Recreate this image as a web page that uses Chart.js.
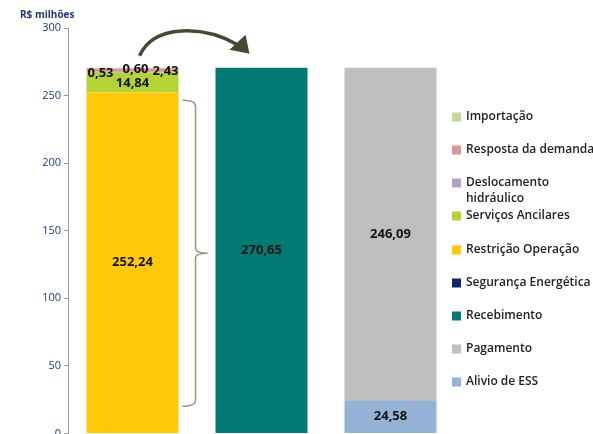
<!DOCTYPE html>
<html>
<head>
<meta charset="utf-8">
<script src="https://cdn.jsdelivr.net/npm/chart.js@4/dist/chart.umd.min.js"></script>
<style>
  html, body { margin: 0; padding: 0; background: #fff; overflow: hidden; }
  #wrap { position: relative; width: 593px; height: 443px; }
</style>
</head>
<body>
<div id="wrap"><canvas id="chart"></canvas></div>
<script>
// Encargos de Serviço do Sistema - R$ milhões
// Series are listed bottom-of-stack first; legend shows them top-first.

const categories = ['Encargos', 'Recebimento', 'Pagamento'];

const seriesNames = [
  'Alivio de ESS',
  'Pagamento',
  'Recebimento',
  'Segurança Energética',
  'Restrição Operação',
  'Serviços Ancilares',
  'Deslocamento hidráulico',
  'Resposta da demanda',
  'Importação',
];

const alivioEss      = [0, 0, 24.58];
const pagamento      = [0, 0, 246.09];
const recebimento    = [0, 270.65, 0];
const segurancaEnerg = [0, 0, 0];
const restricaoOper  = [252.24, 0, 0];
const servicosAnc    = [14.84, 0, 0];
const deslocamento   = [0.60, 0, 0];
const respostaDem    = [2.43, 0, 0];
const importacao     = [0.53, 0, 0];

const yTicks = [0, 50, 100, 150, 200, 250, 300];

const seriesColors = [
  '#95B3D7', '#BFBFBF', '#007A72', '#0C2A6A', '#FFC908',
  '#B5D334', '#B3A2C7', '#D99694', '#C4D79B',
];

const seriesValues = [
  alivioEss, pagamento, recebimento, segurancaEnerg, restricaoOper,
  servicosAnc, deslocamento, respostaDem, importacao,
];

// --- Value labels, arrow, brace, legend and unit title ---

const fmt = (v) => v.toFixed(2).replace('.', ',');
const FONT = '"Open Sans", "DejaVu Sans", sans-serif';

// small segments on top of the first bar get their labels nudged by hand
const smallLabelOffsets = {
  'Importação': { dx: -32, dy: 6 },
  'Deslocamento hidráulico': { dx: 3, dy: -2 },
  'Resposta da demanda': { dx: 33, dy: 3 },
};

const annotations = {
  id: 'annotations',
  afterDatasetsDraw(chart) {
    const { ctx, scales: { x, y } } = chart;
    ctx.save();

    // value labels
    ctx.font = 'bold 13px ' + FONT;
    ctx.fillStyle = '#111';
    ctx.textAlign = 'center';
    ctx.textBaseline = 'middle';
    chart.data.datasets.forEach((ds, di) => {
      const meta = chart.getDatasetMeta(di);
      ds.data.forEach((v, i) => {
        if (!v) return;
        const bar = meta.data[i];
        let cx = bar.x, cy = (bar.y + bar.base) / 2;
        const off = smallLabelOffsets[ds.label];
        if (off) { cx = bar.x + off.dx; cy = bar.y + off.dy; }
        else if (ds.label === 'Serviços Ancilares') { cy += 1; }
        ctx.fillText(fmt(v), cx, cy);
      });
    });

    // curved arrow from first bar to second bar
    const top = y.getPixelForValue(270.65);
    const x0 = x.getPixelForValue(0) + 7, x1 = x.getPixelForValue(1) - 18;
    const sy = top - 12, ey = top - 17;
    ctx.strokeStyle = '#4A4632';
    ctx.fillStyle = '#4A4632';
    ctx.lineWidth = 3.5;
    ctx.beginPath();
    ctx.moveTo(x0, sy);
    ctx.bezierCurveTo(x0 + 15, sy - 32, x1 - 40, sy - 30, x1 - 6, ey - 6);
    ctx.stroke();
    ctx.beginPath();
    ctx.moveTo(x1 + 6, ey + 3);
    ctx.lineTo(x1 - 14, ey - 1);
    ctx.lineTo(x1 + 2, ey - 16);
    ctx.closePath();
    ctx.fill();

    // brace between first and second bar
    const bx = x.getPixelForValue(0) + 63;
    const bTop = y.getPixelForValue(246.5), bBot = y.getPixelForValue(20);
    const bMid = (bTop + bBot) / 2;
    ctx.strokeStyle = '#8E9B78';
    ctx.lineWidth = 1.5;
    ctx.beginPath();
    ctx.moveTo(bx - 13, bTop);
    ctx.quadraticCurveTo(bx, bTop, bx, bTop + 6);
    ctx.lineTo(bx, bMid - 5);
    ctx.quadraticCurveTo(bx, bMid, bx + 12, bMid);
    ctx.quadraticCurveTo(bx, bMid, bx, bMid + 5);
    ctx.lineTo(bx, bBot - 6);
    ctx.quadraticCurveTo(bx, bBot, bx - 13, bBot);
    ctx.stroke();

    // unit title
    ctx.font = 'bold 10px ' + FONT;
    ctx.fillStyle = '#1F3A78';
    ctx.textAlign = 'left';
    ctx.fillText('R$ milhões', 20, 15);

    // legend, top of stack first
    const rows = [117, 150, 183, 216, 250, 283, 316, 349, 382];
    ctx.font = '600 12px ' + FONT;
    ctx.textBaseline = 'middle';
    chart.data.datasets.slice().reverse().forEach((ds, k) => {
      const ry = rows[k];
      ctx.fillStyle = ds.backgroundColor;
      ctx.fillRect(452, ry - 4.5, 9, 9);
      ctx.fillStyle = '#222';
      const lines = ds.label === 'Deslocamento hidráulico'
        ? ['Deslocamento', 'hidráulico'] : [ds.label];
      lines.forEach((t, li) => ctx.fillText(t, 466, ry + li * 16));
    });

    ctx.restore();
  },
};

new Chart(document.getElementById('chart'), {
  type: 'bar',
  data: {
    labels: categories,
    datasets: seriesNames.map((name, i) => ({
      label: name,
      data: seriesValues[i],
      backgroundColor: seriesColors[i],
      barPercentage: 0.713,
      categoryPercentage: 1,
    })),
  },
  options: {
    responsive: true,
    maintainAspectRatio: false,
    animation: false,
    layout: { padding: { top: 28, right: 138, bottom: 0, left: 0 } },
    plugins: {
      legend: { display: false },
      tooltip: { enabled: false },
    },
    scales: {
      x: {
        stacked: true,
        ticks: { display: false },
        grid: { display: false },
        border: { display: false },
      },
      y: {
        stacked: true,
        min: 0,
        max: 300,
        afterBuildTicks: (scale) => { scale.ticks = yTicks.map(v => ({ value: v })); },
        afterFit: (scale) => { scale.width = 68; },
        ticks: {
          color: '#1F3A78',
          font: { family: FONT, size: 11 },
          padding: 3,
        },
        grid: {
          drawOnChartArea: false,
          drawTicks: true,
          tickLength: 4,
          color: '#999',
        },
        border: { display: true, color: '#999', width: 1 },
      },
    },
  },
  plugins: [annotations],
});
</script>
</body>
</html>
